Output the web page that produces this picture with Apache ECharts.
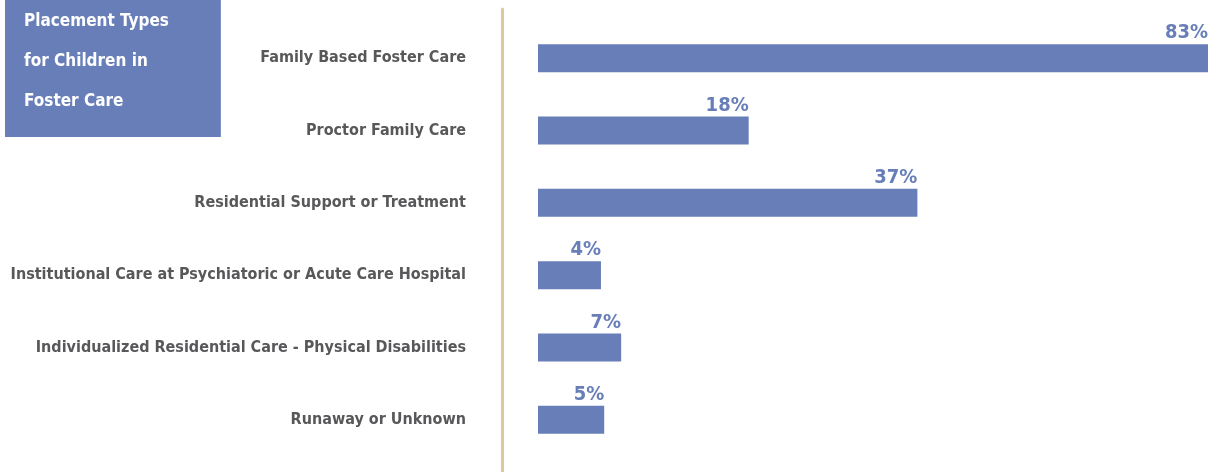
<!DOCTYPE html>
<html>
<head>
<meta charset="utf-8">
<script src="https://cdn.jsdelivr.net/npm/echarts@6/dist/echarts.min.js"></script>
<style>
  html, body { margin: 0; padding: 0; background: #fff; }
  #chart { width: 1227px; height: 472px; }
</style>
</head>
<body>
<div id="chart"></div>
<script>
// categories, top to bottom
const categories = [
  'Family Based Foster Care',
  'Proctor Family Care',
  'Residential Support or Treatment',
  'Institutional Care at Psychiatoric or Acute Care Hospital',
  'Individualized Residential Care - Physical Disabilities',
  'Runaway or Unknown'
];
// percentages printed over the bars
const percentLabels = [83, 18, 37, 4, 7, 5];
// bar lengths as drawn in the picture (same scale as the 83% bar)
const barLengths = [83, 26.1, 47, 7.8, 10.3, 8.2];

const FONT = '"DejaVu Sans Condensed", "Liberation Sans Narrow", sans-serif';

let myChart = echarts.init(document.getElementById('chart'));
let option = {
  animation: false,
  title: {
    text: 'Placement Types\nfor Children in\nFoster Care',
    left: 5,
    top: 0,
    padding: [2, 52, 15, 19],
    backgroundColor: '#687eb8',
    textStyle: {
      color: '#fff',
      fontFamily: FONT,
      fontWeight: 'bold',
      fontSize: 17,
      lineHeight: 40
    }
  },
  grid: [
    { left: 538, right: 19, top: 22, bottom: 16, outerBoundsMode: 'none', containLabel: false },
    { left: 502, width: 10, top: 9, bottom: 0, outerBoundsMode: 'none', containLabel: false }
  ],
  xAxis: [
    { gridIndex: 0, type: 'value', min: 0, max: 83, show: false },
    { gridIndex: 1, type: 'value', show: false }
  ],
  yAxis: [
    {
      gridIndex: 0,
      type: 'category',
      inverse: true,
      data: categories,
      axisLine: { show: false },
      axisTick: { show: false },
      axisLabel: {
        margin: 72,
        color: '#58585a',
        fontFamily: FONT,
        fontWeight: 'bold',
        fontSize: 16
      }
    },
    {
      gridIndex: 1,
      type: 'value',
      axisLine: { show: true, lineStyle: { color: '#dfc89e', width: 3 } },
      axisTick: { show: false },
      axisLabel: { show: false },
      splitLine: { show: false }
    }
  ],
  series: [
    {
      type: 'bar',
      xAxisIndex: 0,
      yAxisIndex: 0,
      barWidth: 28,
      itemStyle: { color: '#687eb8' },
      label: {
        show: true,
        position: ['100%', 0],
        align: 'right',
        verticalAlign: 'bottom',
        offset: [0, -1],
        color: '#687eb8',
        fontFamily: FONT,
        fontWeight: 'bold',
        fontSize: 20,
        formatter: p => percentLabels[p.dataIndex] + '%'
      },
      data: barLengths
    }
  ]
};

option && myChart.setOption(option);
</script>
</body>
</html>
